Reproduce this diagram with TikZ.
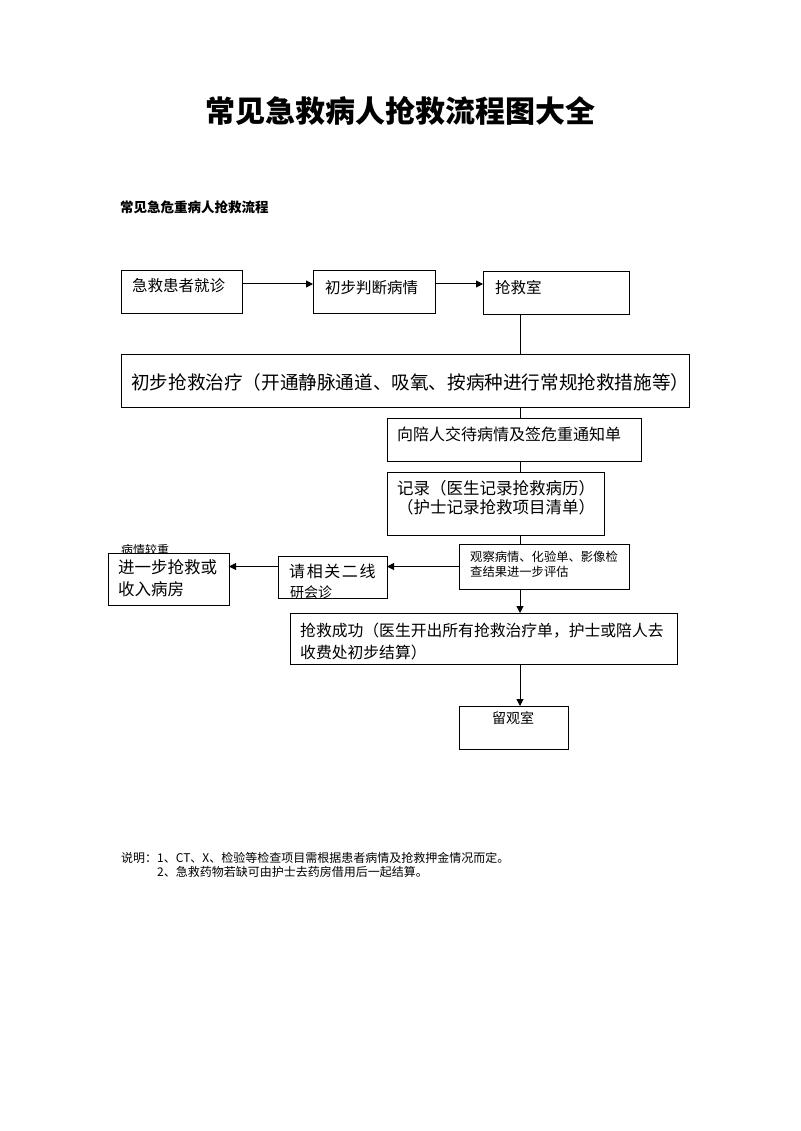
\documentclass[tikz,border=0pt]{standalone}
\usepackage{fontspec}
\setmainfont{Noto Sans CJK SC}
\usetikzlibrary{arrows.meta,calc}
\begin{document}
\begin{tikzpicture}[x=1pt,y=-1pt,
  box/.style={draw, line width=1pt, anchor=north west, inner sep=0pt, outer sep=0pt},
  txt/.style={anchor=west, inner sep=0pt, align=left},
  fs/.style={font=\fontsize{#1}{#1}\selectfont},
  arr/.style={line width=1pt, -{Triangle[length=7pt,width=7pt]}},
  ln/.style={line width=1pt}]
\useasboundingbox[fill=white] (0,0) rectangle (800,1131);

% titles
\node[inner sep=0pt, font=\bfseries\fontsize{30}{30}\selectfont] (title) at (400,111) {常见急救病人抢救流程图大全};
\node[txt, font=\bfseries\fontsize{13.5}{13.5}\selectfont] (sub) at (120,207) {常见急危重病人抢救流程};

% spine coordinate
\coordinate (spine) at (520,0);

% boxes
\node[box, minimum width=121pt, minimum height=42pt] (b1) at (121,271) {};
\node[box, minimum width=122pt, minimum height=42pt] (b2) at (313,271) {};
\node[box, minimum width=146pt, minimum height=42pt] (b3) at (483,272) {};
\node[box, minimum width=568pt, minimum height=53pt] (b4) at (121,354) {};
\node[box, minimum width=254pt, minimum height=43pt] (b5) at (387,418) {};
\node[box, minimum width=217pt, minimum height=63pt] (b6) at (387,472) {};
\node[box, minimum width=170pt, minimum height=45pt] (b7) at (459,544) {};
\node[box, minimum width=109pt, minimum height=42pt] (b8) at (278,556) {};
\node[box, minimum width=121pt, minimum height=52pt] (b9) at (108,553) {};
\node[box, minimum width=387pt, minimum height=51pt] (b10) at (290,613) {};
\node[box, minimum width=109pt, minimum height=43pt] (b11) at (459,706) {};

% texts
\node[txt, fs=15.5] (t1) at (132,286) {急救患者就诊};
\node[txt, fs=15.5] (t2) at (325,288) {初步判断病情};
\node[txt, fs=15.5] (t3) at (495,288) {抢救室};
\node[txt, fs=18.6] (t4) at (131,382) {初步抢救治疗（开通静脉通道、吸氧、按病种进行常规抢救措施等）};
\node[txt, fs=16] (t5) at (397,434) {向陪人交待病情及签危重通知单};
\node[txt, fs=16.5] (t6a) at (397,488) {记录（医生记录抢救病历）};
\node[txt, fs=16.5] (t6b) at (397,507) {（护士记录抢救项目清单）};
\node[txt, fs=12.3] (t7a) at (470,557) {观察病情、化验单、影像检};
\node[txt, fs=12.3] (t7b) at (470,572) {查结果进一步评估};
\node[txt, fs=16.5] (t9a) at (118,567) {进一步抢救或};
\node[txt, fs=16.5] (t9b) at (118,589) {收入病房};
\node[txt, font=\fontsize{16}{16}\selectfont\addfontfeature{LetterSpace=10}] (t8a) at (289,571) {请相关二线};
\begin{scope}
  \clip (278,580) rectangle (388,597);
  \node[txt, fs=14] (t8b) at (290,592) {研会诊};
\end{scope}
\begin{scope}
  \clip (100,535) rectangle (240,552);
  \node[txt, fs=12] (lab) at (121,550) {病情较重};
\end{scope}
\node[txt, fs=15.8] (t10a) at (300,631) {抢救成功（医生开出所有抢救治疗单，护士或陪人去};
\node[txt, fs=15.8] (t10b) at (300,652) {收费处初步结算）};
\node[inner sep=0pt, fs=14] (t11) at (513,718) {留观室};

% notes
\node[txt, fs=12] (n1) at (121,858) {说明：1、CT、X、检验等检查项目需根据患者病情及抢救押金情况而定。};
\node[txt, fs=12] (n2) at (157,872) {2、急救药物若缺可由护士去药房借用后一起结算。};

% connectors
\draw[arr] ([yshift=-13pt]b1.north east) -- ([yshift=-13pt]b1.north east -| b2.west);
\draw[arr] ([yshift=-13pt]b2.north east) -- ([yshift=-13pt]b2.north east -| b3.west);
\draw[ln] (b3.south -| spine) -- (b4.north -| spine);
\draw[ln] (b4.south -| spine) -- (b5.north -| spine);
\draw[ln] (b5.south -| spine) -- (b6.north -| spine);
\draw[ln] (b6.south -| spine) -- (b7.north -| spine);
\draw[arr] (b7.west) -- (b7.west -| b8.east);
\draw[arr] (b7.west -| b8.west) -- (b7.west -| b9.east);
\draw[arr] (b7.south -| spine) -- (b10.north -| spine);
\draw[arr] (b10.south -| spine) -- (b11.north -| spine);
\end{tikzpicture}
\end{document}
